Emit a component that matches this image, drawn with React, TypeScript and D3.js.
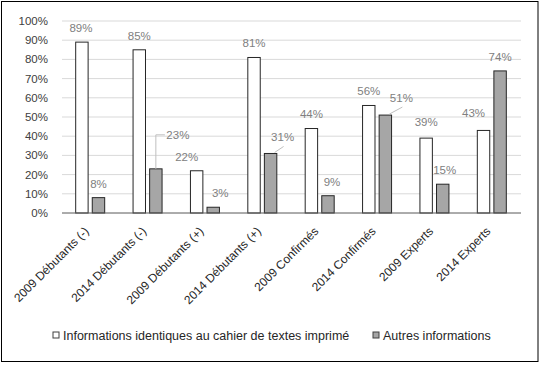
import React from 'react';
import * as d3 from 'd3';

const categories = [
  '2009 Débutants (-)',
  '2014 Débutants (-)',
  '2009 Débutants (+)',
  '2014 Débutants (+)',
  '2009 Confirmés',
  '2014 Confirmés',
  '2009 Experts',
  '2014 Experts',
];
const identiques = [89, 85, 22, 81, 44, 56, 39, 43];
const autres = [8, 23, 3, 31, 9, 51, 15, 74];
const yTicks = [0, 10, 20, 30, 40, 50, 60, 70, 80, 90, 100];
const seriesNames = ['Informations identiques au cahier de textes imprimé', 'Autres informations'];

// manual nudges of the data labels (Excel moved some of them by hand)
const nudgeIdent: [number, number][] = [[-1, 0], [0, 0], [-10, 0], [0, 0], [0, -1], [0, 0], [0, -2], [-10, -3]];
const nudgeAutres: [number, number][] = [[0, 0], [22, -20], [7, 0], [12, -2], [4, 0], [16, -3], [2, 0], [0, 0]];
const leaderAutres = ['', 'elbow', '', 'diag', '', 'diag', '', ''];

const W = 542, H = 366;
const margin = { top: 21, left: 62, right: 21, bottom: 153 };
const font = '"Liberation Sans", Arial, sans-serif';

export default function App() {
  const x = d3.scaleBand().domain(categories).range([margin.left, W - margin.right]);
  const y = d3.scaleLinear().domain([0, 100]).range([H - margin.bottom, margin.top]);
  const sub = d3.scaleBand().domain(['a', 'b']).range([-15, 14]).paddingInner(0.25);
  const bw = sub.bandwidth();
  const fills = ['#ffffff', '#a6a6a6'];

  const bars = (vals: number[], key: string, s: number, nudge: [number, number][], leaders: string[]) =>
    vals.map((v, i) => {
      const cx = x(categories[i])! + x.bandwidth() / 2;
      const bx = cx + sub(key)!;
      const top = y(v);
      const mid = bx + bw / 2;
      const lx = mid + nudge[i][0];
      const ly = top - 14 + nudge[i][1];
      let leader = null;
      if (leaders[i] === 'elbow') {
        leader = <path d={`M${mid},${top}V${ly}H${lx - 13}`} fill="none" stroke="#bfbfbf" strokeWidth={1} />;
      } else if (leaders[i] === 'diag') {
        leader = <line x1={mid + 4} y1={top - 1} x2={lx + 1} y2={ly + 9} stroke="#bfbfbf" strokeWidth={1} />;
      }
      return (
        <g key={key + i}>
          <rect x={bx} y={top} width={bw} height={y(0) - top} fill={fills[s]} stroke="#262626" strokeWidth={1} />
          {leader}
          <text x={lx} y={ly + 4} textAnchor="middle" fontSize={11.5} fill="#808080">{v}%</text>
        </g>
      );
    });

  return (
    <svg width={W} height={H} style={{ position: 'absolute', left: 0, top: 0, fontFamily: font }}>
      <rect x={0} y={0} width={W} height={H} fill="#ffffff" />
      <rect x={1.5} y={1.5} width={536.5} height={360} fill="none" stroke="#000" strokeWidth={1} />
      {yTicks.map((t) => (
        <g key={t}>
          {t > 0 && <line x1={margin.left} x2={W - margin.right} y1={y(t)} y2={y(t)} stroke="#d9d9d9" strokeWidth={1} />}
          <text x={48} y={y(t) + 4} textAnchor="end" fontSize={11.5} fill="#404040">{t}%</text>
        </g>
      ))}
      {bars(identiques, 'a', 0, nudgeIdent, identiques.map(() => ''))}
      {bars(autres, 'b', 1, nudgeAutres, leaderAutres)}
      <line x1={margin.left} x2={W - margin.right} y1={y(0)} y2={y(0)} stroke="#595959" strokeWidth={1} />
      {categories.map((c) => {
        const cx = x(c)! + x.bandwidth() / 2;
        return (
          <text key={c} transform={`translate(${cx - 1},${y(0) + 19}) rotate(-45)`} textAnchor="end" fontSize={12} fill="#262626">
            {c}
          </text>
        );
      })}
      <g transform="translate(53,332)">
        <rect x={0} y={0} width={6} height={6} fill={fills[0]} stroke="#404040" />
        <text x={10} y={8} fontSize={12.5} fill="#262626">{seriesNames[0]}</text>
        <rect x={320} y={0} width={6} height={6} fill={fills[1]} stroke="#404040" />
        <text x={330} y={8} fontSize={12.5} fill="#262626">{seriesNames[1]}</text>
      </g>
    </svg>
  );
}
